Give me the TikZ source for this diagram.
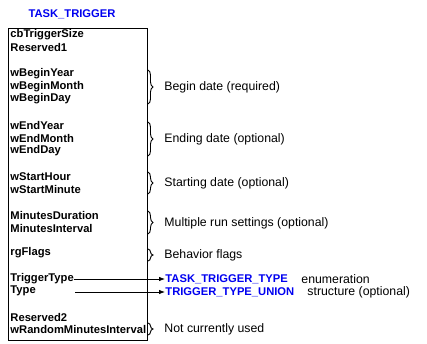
\documentclass[tikz,border=0pt]{standalone}
\usepackage{fontspec}
\setmainfont{Liberation Sans}
\usetikzlibrary{decorations.pathreplacing,arrows.meta}
\definecolor{typeblue}{RGB}{0,0,240}
\tikzset{
  field/.style={anchor=west, inner sep=0pt, font=\fontsize{11.2}{13}\selectfont\bfseries},
  note/.style={anchor=west, inner sep=0pt, font=\fontsize{12.3}{14}\selectfont},
  typename/.style={field, text=typeblue},
  group/.style={decorate, decoration={brace, amplitude=5pt, aspect=0.5}},
}
\begin{document}
\begin{tikzpicture}[x=1pt, y=-1pt, line width=0.9pt]
      \useasboundingbox (0,0) rectangle (427,344);
      \node [typename, anchor=center] (title) at (72,14) {TASK\_TRIGGER};
      \draw (8,28) rectangle (147,340);
      % fields
      \node [field] (size) at (10,35) {cbTriggerSize};
      \node [field] (res1) at (10,48) {Reserved1};
      \node [field] (byear) at (10,74) {wBeginYear};
      \node [field] (bmonth) at (10,87) {wBeginMonth};
      \node [field] (bday) at (10,99) {wBeginDay};
      \node [field] (eyear) at (10,125) {wEndYear};
      \node [field] (emonth) at (10,138) {wEndMonth};
      \node [field] (eday) at (10,151) {wEndDay};
      \node [field] (shour) at (10,177) {wStartHour};
      \node [field] (smin) at (10,189) {wStartMinute};
      \node [field] (mdur) at (10,215) {MinutesDuration};
      \node [field] (mint) at (10,228) {MinutesInterval};
      \node [field] (flags) at (10,253) {rgFlags};
      \node [field] (trigtype) at (10,279) {TriggerType};
      \node [field] (type) at (10,291) {Type};
      \node [field] (res2) at (10,317) {Reserved2};
      \node [field] (rand) at (10,329) {wRandomMinutesInterval};
      % braces and notes
      \draw [group] (148,70) -- (148,104);
      \node [note] (begin) at (164,87) {Begin date (required)};
      \draw [group] (148,122) -- (148,156);
      \node [note] (end) at (164,139) {Ending date (optional)};
      \draw [group] (148,172) -- (148,194);
      \node [note] (start) at (164,183) {Starting date (optional)};
      \draw [group] (148,211) -- (148,234);
      \node [note] (multi) at (164,223) {Multiple run settings (optional)};
      \draw [group] (148,249) -- (148,261);
      \node [note] (behave) at (164,255) {Behavior flags};
      \draw [group] (148,323) -- (148,335);
      \node [note] (unused) at (164,329) {Not currently used};
      % type links
      \node [typename] (ttype) at (165,279) {TASK\_TRIGGER\_TYPE};
      \node [note] (enum) at (301,279) {enumeration};
      \node [typename] (tunion) at (165,292) {TRIGGER\_TYPE\_UNION};
      \node [note] (struct) at (307,292) {structure (optional)};
      \coordinate (typeend) at (75,292);
      \draw [-{Latex[length=6pt,width=4.5pt]}, line width=0.8pt] (trigtype.east) -- (ttype.west);
      \draw [-{Latex[length=6pt,width=4.5pt]}, line width=0.8pt] (typeend) -- (tunion.west);
    \end{tikzpicture}
\end{document}
